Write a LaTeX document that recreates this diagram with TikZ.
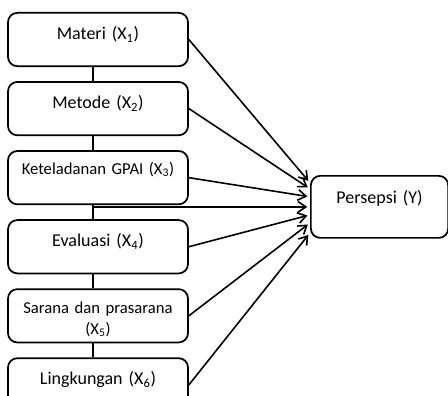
\documentclass[tikz,border=0pt]{standalone}
\usepackage{fontspec}
\setmainfont{Carlito}
\usetikzlibrary{arrows.meta, positioning, calc}

\begin{document}
\begin{tikzpicture}[
    x=0.75pt, y=-0.75pt,
    node distance=10.5pt,
    varbox/.style={rectangle, draw, line width=1.3pt, rounded corners=7pt, anchor=north, text width=127pt, align=center, inner xsep=4pt, inner ysep=0pt, text height=20pt, text depth=20pt, font=\fontsize{13.5}{16}\selectfont},
    outbox/.style={varbox, text width=95pt, anchor=north west, text height=20.5pt, text depth=26pt},
    link/.style={draw, line width=0.9pt},
    arr/.style={draw, -{Straight Barb[length=6pt,width=8pt]}, line width=1.2pt, shorten >=2pt}
]
    \useasboundingbox (0,0) rectangle (448,395);

    % Variabel X
    \node [varbox] (m1) at (98,12) {Materi (X\textsubscript{1})};
    \node [varbox, below=of m1] (m2) {Metode (X\textsubscript{2})};
    \node [varbox, below=of m2, text height=17.5pt, text depth=22.5pt, font=\fontsize{12.5}{16}\selectfont] (m3) {Keteladanan GPAI (X\textsubscript{3})};
    \node [varbox, below=of m3] (m4) {Evaluasi (X\textsubscript{4})};
    \node [varbox, below=of m4, text height=18pt, text depth=22pt, font=\fontsize{12.5}{16}\selectfont] (m5) {Sarana dan prasarana\\(X\textsubscript{5})};
    \node [varbox, below=of m5] (m6) {Lingkungan (X\textsubscript{6})};

    % Variabel Y
    \node [outbox] (y) at (310,175) {Persepsi (Y)};

    % Garis penghubung kotak X
    \coordinate (spine) at (93,0);
    \path [link] (m1.south -| spine) -- (m2.north -| spine);
    \path [link] (m2.south -| spine) -- (m3.north -| spine);
    \path [link] (m3.south -| spine) -- (m4.north -| spine);
    \path [link] (m4.south -| spine) -- (m5.north -| spine);
    \path [link] (m5.south -| spine) -- (m6.north -| spine);

    % Panah ke Y
    \path [arr] (m1.east) -- ([yshift=18pt]y.west);
    \path [arr] (m2.east) -- ([yshift=13.5pt]y.west);
    \path [arr] (m3.east) -- ([yshift=7.5pt]y.west);
    \path [arr] (spine |- y.west) -- (y.west);
    \path [arr] (m4.east) -- ([yshift=-6pt]y.west);
    \path [arr] (m5.east) -- ([yshift=-12pt]y.west);
    \path [arr] (m6.east) -- ([yshift=-19.5pt]y.west);

\end{tikzpicture}
\end{document}
